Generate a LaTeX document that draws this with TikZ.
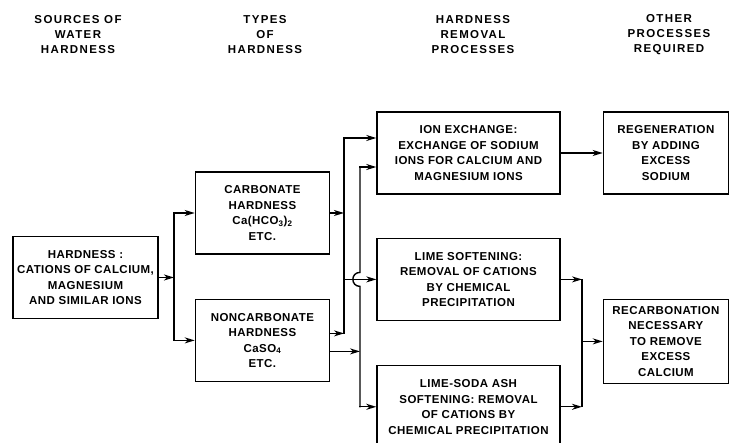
\documentclass[tikz,border=0pt]{standalone}
\usepackage{fontspec}
\setmainfont{Liberation Sans}
\newfontfamily\boxfont[LetterSpace=4]{Liberation Sans}
\newfontfamily\headfont[LetterSpace=12]{Liberation Sans}
\usetikzlibrary{arrows.meta, positioning, calc}

\begin{document}
\begin{tikzpicture}[
    x=1pt, y=-1pt,
    node distance=43pt and 36pt,
    box/.style={draw, line width=1.4pt, minimum height=82pt, inner sep=2pt, align=center, font=\boxfont\bfseries\fontsize{11.5}{15.5}\selectfont},
    head/.style={align=center, font=\headfont\bfseries\fontsize{11.5}{15}\selectfont},
    arrow/.style={-{Stealth[length=10pt, width=6pt, inset=3pt]}, line width=1.4pt, line cap=rect},
    bus/.style={line width=1.4pt, line cap=rect}
]
\clip (0,0) rectangle (729,443);

% Column headings
\node[head] (hsrc) at (78,35) {SOURCES OF\\WATER\\HARDNESS};
\node[head] (htyp) at (265,35) {TYPES\\OF\\HARDNESS};
\node[head] (hrem) at (473,35) {HARDNESS\\REMOVAL\\PROCESSES};
\node[head] (hoth) at (669,35) {OTHER\\PROCESSES\\REQUIRED};

% Sources and types of hardness
\node[box, minimum width=145pt] (hard) at (85.5,277.5) {HARDNESS :\\CATIONS OF CALCIUM,\\MAGNESIUM\\AND SIMILAR IONS};
\node[box, minimum width=134pt, right=36pt of hard, yshift=64.5pt] (carb) {CARBONATE\\HARDNESS\\Ca(HCO\textsubscript{3})\textsubscript{2}\\ETC.};
\node[box, minimum width=134pt, below=44pt of carb] (noncarb) {NONCARBONATE\\HARDNESS\\CaSO\textsubscript{4}\\ETC.};

% Hardness removal processes
\node[box, minimum width=183pt] (ion) at (468.5,153) {ION EXCHANGE:\\EXCHANGE OF SODIUM\\IONS FOR CALCIUM AND\\MAGNESIUM IONS};
\node[box, minimum width=183pt, below=of ion] (lime) {LIME SOFTENING:\\REMOVAL OF CATIONS\\BY CHEMICAL\\PRECIPITATION};
\node[box, minimum width=183pt, below=44pt of lime] (soda) {LIME-SODA ASH\\SOFTENING: REMOVAL\\OF CATIONS BY\\CHEMICAL PRECIPITATION};

% Other processes
\node[box, minimum width=125pt, right=42pt of ion] (regen) {REGENERATION\\BY ADDING\\EXCESS\\SODIUM};
\node[box, minimum width=125pt, minimum height=84pt, right=42pt of lime, yshift=-62pt] (recarb) {RECARBONATION\\NECESSARY\\TO REMOVE\\EXCESS\\CALCIUM};

% Bus lines
\coordinate (b1) at (174,0);
\coordinate (b2) at (344,0);
\coordinate (b3) at (360,0);
\coordinate (b4) at (582,0);
\coordinate (nc1) at ($(noncarb.east)+(0,-7)$);
\coordinate (nc2) at ($(noncarb.east)+(0,11)$);
\coordinate (ion1) at ($(ion.west)+(0,-15)$);
\coordinate (ion2) at ($(ion.west)+(0,14)$);

% Arrows
\draw[arrow] (hard.east) -- (hard.east -| b1);
\draw[bus] (carb.west -| b1) -- (noncarb.west -| b1);
\draw[arrow] (carb.west -| b1) -- (carb.west);
\draw[arrow] (noncarb.west -| b1) -- (noncarb.west);

\draw[arrow] (carb.east) -- (carb.east -| b2);
\draw[arrow] (nc1) -- (nc1 -| b2);
\draw[arrow] (nc2) -- (nc2 -| b3);
\draw[bus] (ion1 -| b2) -- (nc1 -| b2);
\draw[arrow] (ion1 -| b2) -- (ion1);
\draw[arrow] (lime.west -| b2) -- (lime.west);
\draw[bus] (ion2 -| b3) -- ($(lime.west -| b3)+(0,-7)$) .. controls +(-9.5,0) and +(-9.5,0) .. ($(lime.west -| b3)+(0,7)$) -- (soda.west -| b3);
\draw[arrow] (ion2 -| b3) -- (ion2);
\draw[arrow] (soda.west -| b3) -- (soda.west);

\draw[arrow] (ion) -- (regen);
\draw[arrow] (lime.east) -- (lime.east -| b4);
\draw[arrow] (soda.east) -- (soda.east -| b4);
\draw[bus] (lime.east -| b4) -- (soda.east -| b4);
\draw[arrow] (recarb.west -| b4) -- (recarb.west);
\end{tikzpicture}
\end{document}
